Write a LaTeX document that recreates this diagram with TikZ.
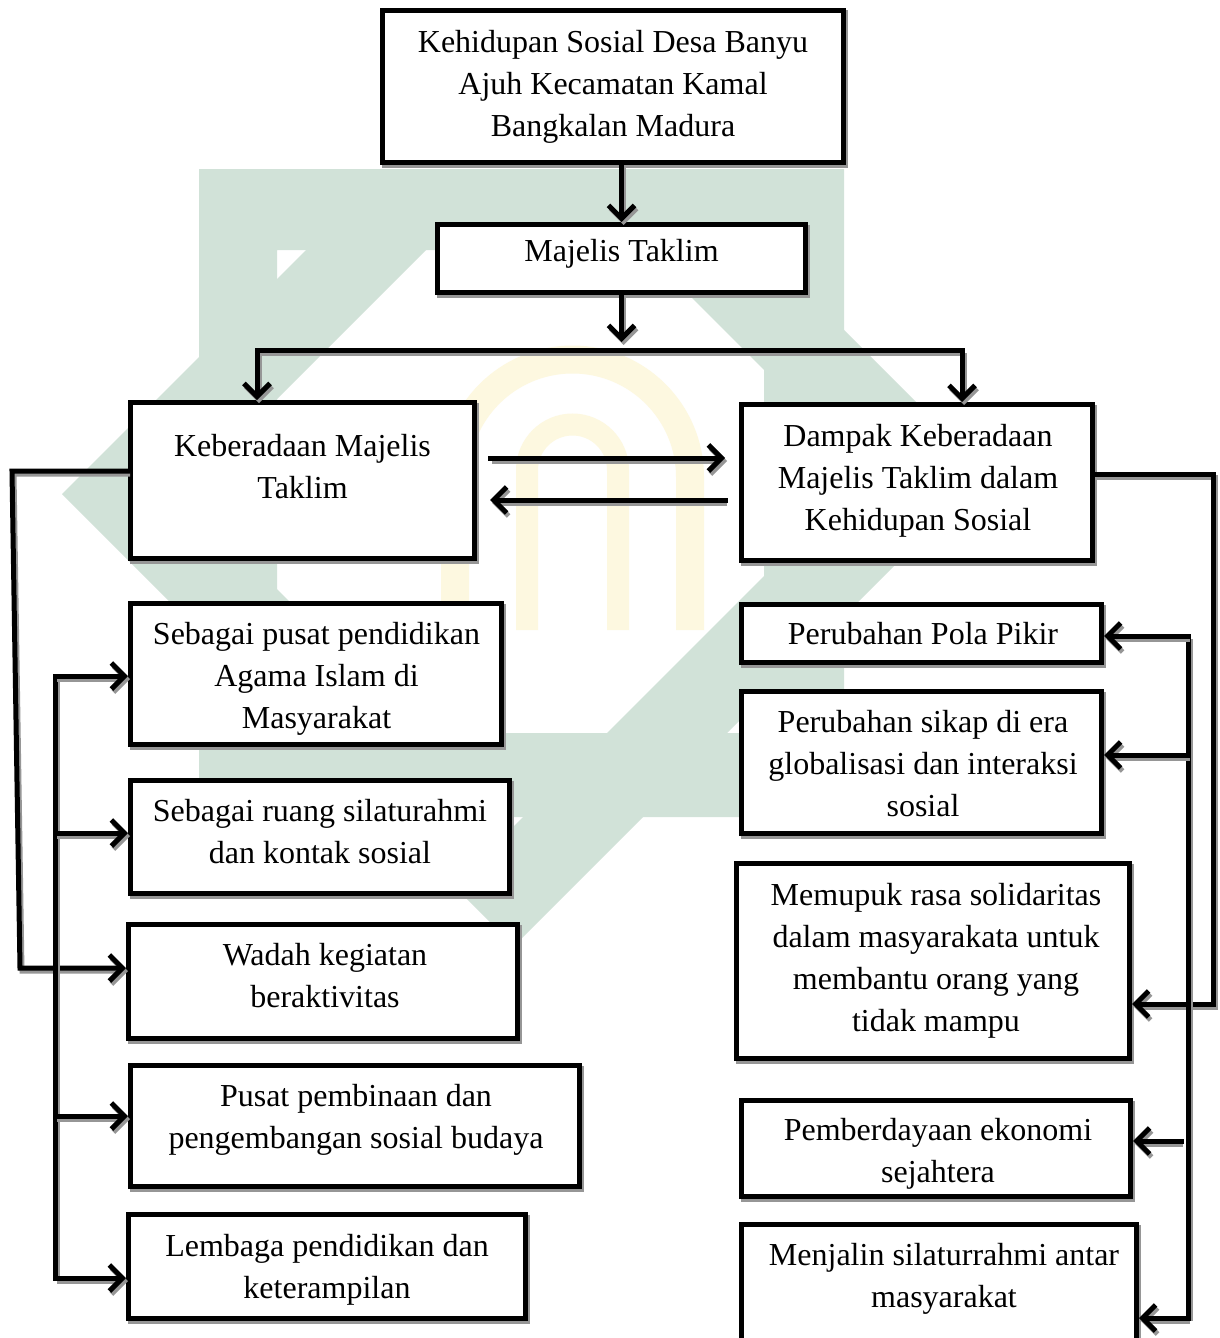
\documentclass[tikz,border=0pt]{standalone}
\usepackage{fontspec}
\setmainfont{Liberation Serif}
\usetikzlibrary{arrows.meta,calc}
\definecolor{wmg}{RGB}{209,226,216}
\definecolor{wmy}{RGB}{253,248,224}
\definecolor{shd}{RGB}{150,150,150}
\begin{document}
\begin{tikzpicture}[x=1pt,y=-1pt,
  box/.style={draw, line width=5pt, fill=white, inner sep=0pt, rectangle,
    preaction={draw=shd, line width=5pt, transform canvas={shift={(1.5pt,-2.5pt)}}}},
  txt/.style={align=center, anchor=base, inner sep=0pt, font=\fontsize{32}{42}\selectfont},
  conn/.style={line width=5pt, line cap=rect,
    preaction={draw=shd, line width=5pt, transform canvas={shift={(2pt,-3pt)}}}},
  arr/.style={conn, -{Straight Barb[length=13pt,width=26pt]}}]
\useasboundingbox (0,0) rectangle (1219,1338);
\clip (0,0) rectangle (1219,1338);
\fill[white] (0,0) rectangle (1219,1338);

% watermark
\begin{scope}
\clip (0,169) rectangle (1219,1338);
\fill[wmg, even odd rule] (199,169) rectangle (844,817) (277,250) rectangle (764,733);
\fill[wmg, even odd rule] (535,21) -- (987,473) -- (514,946) -- (62,494) -- cycle
  (535,141) -- (867,473) -- (514,826) -- (182,494) -- cycle;
\end{scope}
\draw[wmy, line width=28pt] (455,630) -- (455,477) .. controls (455,412.1) and (507.6,359.5) .. (572.5,359.5)
  .. controls (637.4,359.5) and (690,412.1) .. (690,477) -- (690,630);
\draw[wmy, line width=22pt] (527,630) -- (527,470) .. controls (527,444.9) and (547.4,424.5) .. (572.5,424.5)
  .. controls (597.6,424.5) and (618,444.9) .. (618,470) -- (618,630);

% boxes
\node[box, minimum width=461pt, minimum height=152pt] (b1) at (613,86.5) {};
\node[box, minimum width=368pt, minimum height=68pt] (b2) at (621.5,258.5) {};
\node[box, minimum width=344pt, minimum height=156pt] (b3) at (302.5,480.5) {};
\node[box, minimum width=351pt, minimum height=156pt] (b4) at (917,482.5) {};
\node[box, minimum width=371pt, minimum height=141pt] (b5) at (316,674) {};
\node[box, minimum width=379pt, minimum height=113pt] (b6) at (320,837) {};
\node[box, minimum width=389pt, minimum height=114pt] (b7) at (323,981.5) {};
\node[box, minimum width=449pt, minimum height=121pt] (b8) at (355,1126) {};
\node[box, minimum width=397pt, minimum height=104pt] (b9) at (327,1266.5) {};
\node[box, minimum width=360pt, minimum height=58pt] (b10) at (921.5,633.5) {};
\node[box, minimum width=360pt, minimum height=142pt] (b11) at (921.5,762.5) {};
\node[box, minimum width=393pt, minimum height=195pt] (b12) at (933,961) {};
\node[box, minimum width=389pt, minimum height=96pt] (b13) at (936,1148.5) {};
\node[box, minimum width=395pt, minimum height=140pt] (b14) at (939,1294.5) {};

% texts (anchor = baseline of last line)
\node[txt] (t1) at (613,136) {Kehidupan Sosial Desa Banyu\\Ajuh Kecamatan Kamal\\Bangkalan Madura};
\node[txt] (t2) at (621.5,261) {Majelis Taklim};
\node[txt] (t3) at (302.5,498) {Keberadaan Majelis\\Taklim};
\node[txt] (t4) at (918,530) {Dampak Keberadaan\\Majelis Taklim dalam\\Kehidupan Sosial};
\node[txt] (t5) at (316.5,728) {Sebagai pusat pendidikan\\Agama Islam di\\Masyarakat};
\node[txt] (t6) at (320,863) {Sebagai ruang silaturahmi\\dan kontak sosial};
\node[txt] (t7) at (325,1007) {Wadah kegiatan\\beraktivitas};
\node[txt] (t8) at (356,1148) {Pusat pembinaan dan\\pengembangan sosial budaya};
\node[txt] (t9) at (327,1298) {Lembaga pendidikan dan\\keterampilan};
\node[txt] (t10) at (923,644) {Perubahan Pola Pikir};
\node[txt] (t11) at (923,816) {Perubahan sikap di era\\globalisasi dan interaksi\\sosial};
\node[txt] (t12) at (936,1031) {Memupuk rasa solidaritas\\dalam masyarakata untuk\\membantu orang yang\\tidak mampu};
\node[txt] (t13) at (938,1182) {Pemberdayaan ekonomi\\sejahtera};
\node[txt] (t14) at (944,1307) {Menjalin silaturrahmi antar\\masyarakat};

% connectors
\draw[arr] (b2.north |- b1.south) -- (b2.north);
\coordinate (m1) at (621.5,342);
\draw[arr] (b2.south) -- (m1);
\coordinate (hl) at (257,350);
\coordinate (hr) at (962,350);
\draw[conn] (hl) -- (hr);
\draw[arr] (hl) -- (hl |- b3.north);
\draw[arr] (hr) -- (hr |- b4.north);

\coordinate (f1) at (490,458);
\coordinate (f2) at (725,458);
\draw[arr] (f1) -- (f2);
\coordinate (g1) at (725,500);
\coordinate (g2) at (490,500);
\draw[arr] (g1) -- (g2);

\coordinate (lb1) at (12,471);
\coordinate (lb2) at (20,968);
\draw[arr] (lb1 -| b3.west) -- (lb1) -- (lb2) -- (lb2 -| b7.west);

\coordinate (lt1) at (55,676);
\coordinate (lt2) at (55,833);
\coordinate (lt3) at (55,1116);
\coordinate (lt4) at (55,1278);
\draw[conn] (lt1) -- (lt4);
\draw[arr] (lt1) -- (lt1 -| b5.west);
\draw[arr] (lt2) -- (lt2 -| b6.west);
\draw[arr] (lt3) -- (lt3 -| b8.west);
\draw[arr] (lt4) -- (lt4 -| b9.west);

\coordinate (rb1) at (1213,474);
\coordinate (rb2) at (1213,1004);
\draw[arr] (rb1 -| b4.east) -- (rb1) -- (rb2) -- (rb2 -| b12.east);

\coordinate (rt1) at (1188,636);
\coordinate (rt2) at (1188,755);
\coordinate (rt3) at (1188,1318);
\draw[conn] (rt1) -- (rt3);
\draw[arr] (rt1) -- (rt1 -| b10.east);
\draw[arr] (rt2) -- (rt2 -| b11.east);
\draw[arr] (rt3) -- (rt3 -| b14.east);
\coordinate (rs) at (1181,1141);
\draw[arr] (rs) -- (rs -| b13.east);
\end{tikzpicture}
\end{document}
